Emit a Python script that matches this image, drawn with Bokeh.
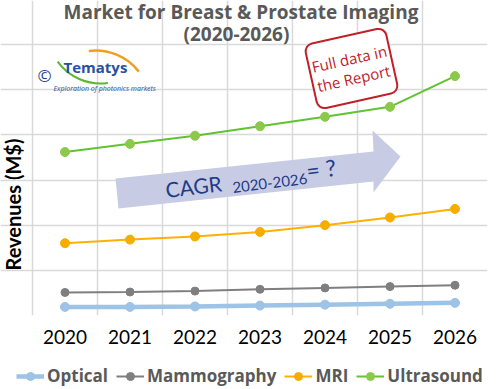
import math
from bokeh.plotting import figure
from bokeh.layouts import column
from bokeh.models import Range1d, FixedTicker, Legend, LegendItem, Label
from bokeh.embed import file_html
from bokeh.resources import INLINE

# ---- data (y in arbitrary revenue units, 6 grid steps) ----
years = ["2020", "2021", "2022", "2023", "2024", "2025", "2026"]
optical = [0.19, 0.19, 0.20, 0.22, 0.24, 0.26, 0.28]
mammography = [0.51, 0.52, 0.54, 0.58, 0.61, 0.64, 0.67]
mri = [1.60, 1.68, 1.75, 1.85, 2.00, 2.17, 2.36]
ultrasound = [3.62, 3.80, 3.98, 4.19, 4.40, 4.62, 5.30]
series_names = ["Optical", "Mammography", "MRI", "Ultrasound"]

xs = list(range(1, len(years) + 1))
grid_y = list(range(0, 7))

TITLE_FONT = "Open Sans"
BODY_FONT = "Lato"

# geometry of the picture (pixels): plot area 32..487 x 44..315
PX0, PX_STEP = 32, 65.0
PY0, PY_STEP = 315, 271 / 6.0
W = 498


def dx(px):
    return 0.5 + (px - PX0) / PX_STEP


def dy(py):
    return (PY0 - py) / PY_STEP


p = figure(width=W, height=355,
           x_range=Range1d(dx(0), 7.5), y_range=Range1d(0, dy(0)),
           output_backend="svg", toolbar_location=None,
           min_border_left=0, min_border_top=0, min_border_right=W - 487,
           min_border_bottom=40)
p.background_fill_color = "white"
p.border_fill_color = "white"
p.outline_line_color = None

# grid at category boundaries, limited to the plot area
p.xgrid.ticker = FixedTicker(ticks=[i + 0.5 for i in range(0, len(years) + 1)])
p.xgrid.bounds = (0, 6)
p.ygrid.ticker = FixedTicker(ticks=grid_y)
p.ygrid.bounds = (0.5, 7.5)
for g in (p.xgrid, p.ygrid):
    g.grid_line_color = "#d9d9d9"
    g.grid_line_width = 1.5

# x axis
p.xaxis.ticker = FixedTicker(ticks=xs)
p.xaxis.major_label_overrides = {x: y for x, y in zip(xs, years)}
p.xaxis.axis_line_color = None
p.xaxis.major_tick_line_color = None
p.xaxis.minor_tick_line_color = None
p.xaxis.major_tick_out = 0
p.xaxis.major_label_standoff = 14
p.xaxis.major_label_text_font = BODY_FONT
p.xaxis.major_label_text_font_size = "19px"
p.xaxis.major_label_text_color = "black"
p.yaxis.visible = False

# y axis title (anchored at its lower end, reading upwards)
p.add_layout(Label(x=dx(12), y=dy(270), text="Revenues (M$)", angle=math.pi / 2,
                   text_align="left", text_baseline="middle", text_font=BODY_FONT,
                   text_font_size="20px", text_font_style="bold", text_color="black"))

# ---- CAGR arrow (decoration) ----
arrow_px = [(118, 208), (115, 178), (373, 151), (372, 130), (400, 156), (373, 192), (373, 181)]
p.patch([dx(a) for a, b in arrow_px], [dy(b) for a, b in arrow_px],
        fill_color="#c8cbe4", line_color=None)
ang = math.radians(7)
p.add_layout(Label(x=dx(165), y=dy(189), text="CAGR", angle=ang, text_align="left",
                   text_baseline="middle", text_font=BODY_FONT, text_font_size="21px",
                   text_color="#1f3c88"))
p.add_layout(Label(x=dx(232), y=dy(187), text="2020-2026", angle=ang, text_align="left",
                   text_baseline="middle", text_font=BODY_FONT, text_font_size="15px",
                   text_color="#1f3c88"))
p.add_layout(Label(x=dx(306), y=dy(170), text="= ?", angle=ang, text_align="left",
                   text_baseline="middle", text_font=BODY_FONT, text_font_size="23px",
                   text_color="#1f3c88"))

# ---- logo (decoration) ----
p.arc(x=[dx(95)], y=[dy(105)], radius=55, radius_units="screen",
      start_angle=math.radians(38), end_angle=math.radians(97),
      line_color="#f0a020", line_width=2.5)
p.arc(x=[dx(100)], y=[dy(30)], radius=53, radius_units="screen",
      start_angle=math.radians(216), end_angle=math.radians(278),
      line_color="#5cb82e", line_width=2)
p.add_layout(Label(x=dx(37), y=dy(75), text="©", text_align="left", text_baseline="middle",
                   text_font=TITLE_FONT, text_font_size="17px", text_color="#2b3f8f"))
p.add_layout(Label(x=dx(63), y=dy(66), text="Tematys", text_align="left",
                   text_baseline="middle", text_font=TITLE_FONT, text_font_size="15px",
                   text_font_style="bold", text_color="#2b4fa0"))
p.add_layout(Label(x=dx(53), y=dy(88), text="Exploration of photonics markets",
                   text_align="left", text_baseline="middle", text_font=TITLE_FONT,
                   text_font_size="7px", text_font_style="italic", text_color="#2b4fa0"))

# ---- series ----
styles = [
    (optical, "#9dc3e6", "#9dc3e6", 4.5, 9),
    (mammography, "#7f7f7f", "#7f7f7f", 2, 8),
    (mri, "#ffb000", "#f5ad00", 2, 9),
    (ultrasound, "#62c232", "#8cc94a", 2, 9),
]
for vals, lc, mc, lw, ms in styles:
    p.line(xs, vals, line_color=lc, line_width=lw)
    p.scatter(xs, vals, size=ms, fill_color=mc, line_color=mc)

# ---- "Full data in the Report" stamp ----
p.add_layout(Label(x=dx(351), y=dy(68), text="Full data in\nthe Report",
                   angle=math.radians(12.5), text_align="center", text_baseline="middle",
                   text_font=TITLE_FONT, text_font_size="15px", text_color="#c0202a",
                   text_line_height=1.0,
                   background_fill_color="white", border_line_color="#c0202a",
                   border_line_width=2, border_radius=8, padding=(3, 13)))

# ---- titles ----
p.add_layout(Label(x=dx(63), y=dy(11), text="Market for Breast & Prostate Imaging",
                   text_align="left", text_baseline="middle", text_font=TITLE_FONT,
                   text_font_size="19px", text_font_style="bold", text_color="#595959"))
p.add_layout(Label(x=dx(183), y=dy(33), text="(2020-2026)",
                   text_align="left", text_baseline="middle", text_font=TITLE_FONT,
                   text_font_size="19px", text_font_style="bold", text_color="#595959"))

# ---- legend strip (separate figure; its renderers lie outside its visible range) ----
q = figure(width=W, height=32, x_range=Range1d(-20, -19), y_range=Range1d(-20, -19),
           output_backend="svg", toolbar_location=None,
           min_border_left=0, min_border_top=0, min_border_right=0, min_border_bottom=0)
q.axis.visible = False
q.grid.visible = False
q.outline_line_color = None
items = []
for name, (vals, lc, mc, lw, ms) in zip(series_names, styles):
    r1 = q.line(xs, vals, line_color=lc, line_width=lw)
    r2 = q.scatter(xs, vals, size=ms, fill_color=mc, line_color=mc)
    items.append(LegendItem(label=name, renderers=[r1, r2]))
legend = Legend(items=items, orientation="horizontal", location=(16, 0),
                glyph_width=28, label_standoff=3, spacing=8,
                padding=0, margin=0, border_line_color=None, background_fill_alpha=0,
                label_text_font=TITLE_FONT, label_text_font_size="17px",
                label_text_font_style="bold", label_text_color="#595959")
q.add_layout(legend)

open("out.html", "w").write(file_html(column(p, q, spacing=0), INLINE))
